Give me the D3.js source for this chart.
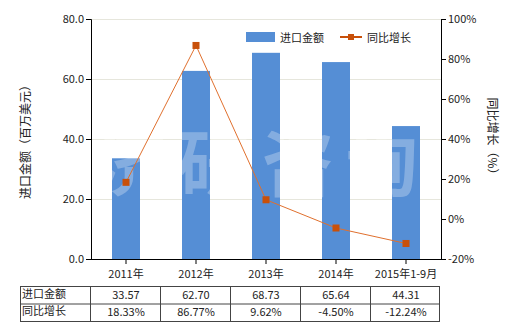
<!DOCTYPE html>
<html>
<head>
<meta charset="utf-8">
<script src="https://cdn.jsdelivr.net/npm/d3@7"></script>
<style>
  body { margin: 0; background: #fff; }
  text { font-family: "Noto Sans CJK SC", "DejaVu Sans", sans-serif; }
</style>
</head>
<body>
<div id="chart"></div>
<script>
// chart data
var years = ["2011年", "2012年", "2013年", "2014年", "2015年1-9月"];
var amounts = [33.57, 62.70, 68.73, 65.64, 44.31];
var growth = [18.33, 86.77, 9.62, -4.50, -12.24];
var amountLabels = ["33.57", "62.70", "68.73", "65.64", "44.31"];
var growthLabels = ["18.33%", "86.77%", "9.62%", "-4.50%", "-12.24%"];
var leftTicks = [0, 20, 40, 60, 80];
var rightTicks = [-20, 0, 20, 40, 60, 80, 100];

var width = 520, height = 330;
// note: "top" is taken by window.top, so use plot* names
var plotLeft = 91, plotRight = 441, plotTop = 19, plotBottom = 259;

var svg = d3.select("#chart")
  .append("svg")
    .attr("width", width)
    .attr("height", height);

var x = d3.scaleBand().domain(years).range([plotLeft, plotRight]);
var yL = d3.scaleLinear().domain([0, 80]).range([plotBottom, plotTop]);
var yR = d3.scaleLinear().domain([-20, 100]).range([plotBottom, plotTop]);

// grid lines
svg.selectAll(".grid")
    .data(leftTicks.slice(1))
  .enter()
    .append("line")
    .attr("x1", plotLeft).attr("x2", plotRight)
    .attr("y1", function(d){ return yL(d) + 0.5; })
    .attr("y2", function(d){ return yL(d) + 0.5; })
    .attr("stroke", "#e6e6dc")
    .attr("stroke-width", 1);

// bars
var barW = 28;
svg.selectAll(".bar")
    .data(amounts)
  .enter()
    .append("rect")
    .attr("x", function(d, i){ return x(years[i]) + x.bandwidth()/2 - barW/2; })
    .attr("y", function(d){ return yL(d); })
    .attr("width", barW)
    .attr("height", function(d){ return plotBottom - yL(d); })
    .attr("fill", "#558ed5");

// watermark
svg.append("text")
    .attr("x", 262).attr("y", 190)
    .attr("text-anchor", "middle")
    .attr("font-size", 72)
    .attr("font-weight", "bold")
    .attr("fill", "#fff")
    .attr("opacity", 0.28)
    .attr("letter-spacing", 12)
    .text("济研咨询");

// growth line
var line = d3.line()
    .x(function(d, i){ return x(years[i]) + x.bandwidth()/2; })
    .y(function(d){ return yR(d); });

svg.append("path")
    .datum(growth)
    .attr("d", line)
    .attr("fill", "none")
    .attr("stroke", "#e0702e")
    .attr("stroke-width", 1);

svg.selectAll(".pt")
    .data(growth)
  .enter()
    .append("rect")
    .attr("x", function(d, i){ return x(years[i]) + x.bandwidth()/2 - 3.5; })
    .attr("y", function(d){ return yR(d) - 3.5; })
    .attr("width", 7).attr("height", 7)
    .attr("fill", "#c8500a");

// axes
var axL = svg.append("g")
    .attr("transform", "translate(" + plotLeft + ",0)")
    .call(d3.axisLeft(yL).tickValues(leftTicks).tickFormat(d3.format(".1f")).tickSize(5).tickPadding(2));
var axR = svg.append("g")
    .attr("transform", "translate(" + plotRight + ",0)")
    .call(d3.axisRight(yR).tickValues(rightTicks).tickFormat(function(d){ return d + "%"; }).tickSize(5).tickPadding(2));
var axB = svg.append("g")
    .attr("transform", "translate(0," + plotBottom + ")")
    .call(d3.axisBottom(x).tickSize(5).tickPadding(6).tickSizeOuter(0));

[axL, axR, axB].forEach(function(g) {
  g.selectAll("text").attr("font-size", 11).attr("fill", "#222")
    .style("font-family", "\"Noto Sans CJK SC\", sans-serif");
  g.selectAll("line, path").attr("stroke", "#000");
});
axB.select(".domain").attr("d", "M" + plotLeft + ",0.5H" + plotRight);

// axis titles
svg.append("text")
    .attr("transform", "translate(30," + (plotTop + plotBottom)/2 + ") rotate(-90)")
    .attr("text-anchor", "middle")
    .attr("font-size", 12)
    .attr("fill", "#222")
    .text("进口金额（百万美元）");
svg.append("text")
    .attr("transform", "translate(488," + (plotTop + plotBottom)/2 + ") rotate(90)")
    .attr("text-anchor", "middle")
    .attr("font-size", 12)
    .attr("fill", "#222")
    .text("同比增长（%）");

// legend
svg.append("rect").attr("x", 246).attr("y", 32).attr("width", 29).attr("height", 10).attr("fill", "#558ed5");
svg.append("text").attr("x", 280).attr("y", 42).attr("font-size", 11).attr("fill", "#222").text("进口金额");
svg.append("line").attr("x1", 340).attr("x2", 362).attr("y1", 37).attr("y2", 37)
    .attr("stroke", "#c8500a").attr("stroke-width", 2);
svg.append("rect").attr("x", 348).attr("y", 34).attr("width", 6).attr("height", 6).attr("fill", "#c8500a");
svg.append("text").attr("x", 367).attr("y", 42).attr("font-size", 11).attr("fill", "#222").text("同比增长");

// data table
var tTop = 286, rowH = 17.5, tLeft = 20;
var rows = [["进口金额", amountLabels], ["同比增长", growthLabels]];
var tbl = svg.append("g");
tbl.append("rect")
    .attr("x", tLeft + 0.5).attr("y", tTop + 0.5)
    .attr("width", plotRight - tLeft - 2).attr("height", rowH * 2)
    .attr("fill", "none").attr("stroke", "#444");
tbl.append("line")
    .attr("x1", tLeft).attr("x2", plotRight - 1)
    .attr("y1", tTop + rowH + 0.5).attr("y2", tTop + rowH + 0.5)
    .attr("stroke", "#444");
tbl.selectAll(".vl")
    .data(years)
  .enter()
    .append("line")
    .attr("x1", function(d){ return Math.round(x(d)) - 1 + 0.5; })
    .attr("x2", function(d){ return Math.round(x(d)) - 1 + 0.5; })
    .attr("y1", tTop).attr("y2", tTop + rowH * 2)
    .attr("stroke", "#444");
rows.forEach(function(r, ri) {
  var cy = tTop + rowH * ri + rowH/2 + 4;
  tbl.append("text").attr("x", tLeft + 2).attr("y", cy - 1)
      .attr("font-size", 11).attr("fill", "#222").text(r[0]);
  tbl.selectAll(".c" + ri)
      .data(r[1])
    .enter()
      .append("text")
      .attr("x", function(d, i){ return x(years[i]) + x.bandwidth()/2; })
      .attr("y", cy)
      .attr("text-anchor", "middle")
      .attr("font-size", 11)
      .attr("fill", "#222")
      .text(function(d){ return d; });
});
</script>
</body>
</html>
